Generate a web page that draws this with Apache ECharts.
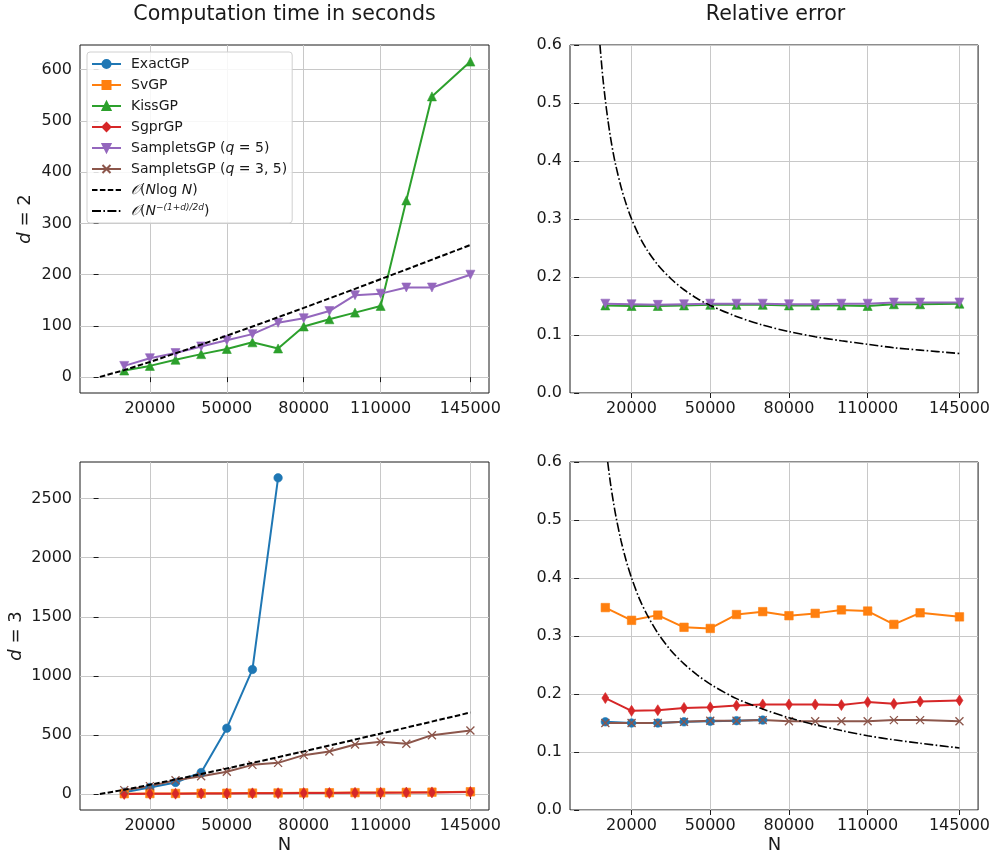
<!DOCTYPE html>
<html>
<head>
<meta charset="utf-8">
<script src="https://cdn.jsdelivr.net/npm/echarts@6/dist/echarts.min.js"></script>
<style>
html,body{margin:0;padding:0;background:#fff;}
#chart{width:993px;height:854px;}
</style>
</head>
<body>
<div id="chart"></div>
<script>
// ---- data ----
const N = [10000,20000,30000,40000,50000,60000,70000,80000,90000,100000,110000,120000,130000,145000];
const xTicks = [20000,50000,80000,110000,145000];
const yTicksTime2 = [0,100,200,300,400,500,600];
const yTicksTime3 = [0,500,1000,1500,2000,2500];

// d = 2, computation time
const kissTime2 = [13,22,34,45,55,68,56,99,113,126,139,345,548,616];
const samp5Time2 = [22,37,47,60,72,84,106,115,129,160,163,175,175,200];
// d = 2, relative error
const kissErr2 = [0.151,0.150,0.150,0.151,0.152,0.152,0.152,0.151,0.151,0.151,0.150,0.153,0.153,0.154];
const samp5Err2 = [0.154,0.153,0.152,0.153,0.154,0.154,0.154,0.153,0.153,0.154,0.154,0.156,0.156,0.156];
// d = 3, computation time
const exactN3 = [10000,20000,30000,40000,50000,60000,70000];
const exactTime3 = [17,57,99,183,558,1055,2676];
const svTime3 = [4,5,6,7,8,9,10,11,12,13,14,15,17,20];
const sgprTime3 = [2,3,4,5,6,7,8,9,10,11,12,13,15,18];
const samp35Time3 = [34,68,118,152,189,248,265,330,361,420,443,426,499,539];
// d = 3, relative error
const exactErr3 = [0.152,0.150,0.150,0.152,0.153,0.154,0.155];
const svErr3 = [0.349,0.327,0.336,0.315,0.313,0.337,0.342,0.335,0.339,0.345,0.343,0.320,0.340,0.333];
const sgprErr3 = [0.193,0.171,0.172,0.176,0.177,0.180,0.182,0.182,0.182,0.181,0.186,0.183,0.187,0.189];
const samp35Err3 = [0.150,0.150,0.150,0.152,0.154,0.154,0.155,0.153,0.153,0.153,0.153,0.155,0.155,0.153];

// reference rate lines
const refN = [500,10000,20000,40000,60000,80000,100000,120000,145000];
const nlognTime2 = [0.5,13.8,29.7,63.5,98.8,135.2,172.4,210.2,258];
const nlognTime3 = [1.3,37,79.5,170,264.6,362,461.7,563,691];
const rateN2 = [7950,9000,10000,11000,12000,13000,14000,16000,18000,20000,23000,26000,30000,35000,40000,45000,50000,60000,70000,80000,90000,100000,110000,120000,130000,145000];
const rateErr2 = [0.600,0.546,0.505,0.470,0.440,0.414,0.392,0.355,0.325,0.300,0.270,0.246,0.221,0.197,0.178,0.163,0.151,0.132,0.117,0.106,0.097,0.090,0.084,0.078,0.074,0.068];
const rateN3 = [10900,12000,13000,14000,16000,18000,20000,23000,26000,30000,35000,40000,45000,50000,60000,70000,80000,90000,100000,110000,120000,130000,145000];
const rateErr3 = [0.600,0.562,0.533,0.507,0.464,0.429,0.400,0.364,0.336,0.305,0.275,0.252,0.233,0.217,0.192,0.174,0.159,0.147,0.137,0.128,0.121,0.115,0.107];

const names = {
  exact:'ExactGP', sv:'SvGP', kiss:'KissGP', sgpr:'SgprGP',
  s5:'SampletsGP (q = 5)', s35:'SampletsGP (q = 3, 5)',
  nlogn:'O(N log N)', rate:'O(N^-(1+d)/(2d))'
};
const C = {exact:'#1f77b4', sv:'#ff7f0e', kiss:'#2ca02c', sgpr:'#d62728', s5:'#9467bd', s35:'#8c564b'};

function zip(xs, ys){ return xs.map((x,i)=>[x, ys[i]]); }

const FONT = 'DejaVu Sans';
const diamond = 'path://M0,-10L6,0L0,10L-6,0Z';
const xmark = 'path://M0,0L10,10M10,0L0,10';

function mk(key, sym, size, rot){
  return {
    type:'line', name:names[key], symbol:sym, symbolSize:size, symbolRotate:rot||0,
    showSymbol:true, color:C[key],
    lineStyle:{width:2, color:C[key]},
    itemStyle:{color:C[key], borderColor:C[key], borderWidth: sym===xmark?1.3:0.6},
    emphasis:{disabled:true}, z:2
  };
}
function S(key, gi, data){
  const sym = {exact:'circle', sv:'rect', kiss:'triangle', sgpr:diamond, s5:'triangle', s35:xmark}[key];
  const size = {exact:8.5, sv:8.5, kiss:9, sgpr:[7,11], s5:9, s35:8}[key];
  const s = mk(key, sym, size, key==='s5'?180:0);
  s.xAxisIndex = gi; s.yAxisIndex = gi; s.data = data;
  return s;
}
const clearItem = {color:'rgba(0,0,0,0)', borderColor:'rgba(0,0,0,0)', borderWidth:0, opacity:0};
function dashed(gi, data){
  return {type:'line', name:names.nlogn, xAxisIndex:gi, yAxisIndex:gi, data, symbol:'none', showSymbol:false,
    lineStyle:{width:2, color:'#000', type:[5.5,2.4]}, itemStyle:clearItem, emphasis:{disabled:true}, z:3};
}
function dashdot(gi, data){
  return {type:'line', name:names.rate, xAxisIndex:gi, yAxisIndex:gi, data, symbol:'none', showSymbol:false, smooth:0.3,
    lineStyle:{width:1.6, color:'#000', type:[9,2.4,1.6,2.4]}, itemStyle:clearItem, emphasis:{disabled:true}, z:3};
}

const gridBox = [
  {left:80, top:45, width:409, height:348},
  {left:570, top:45, width:409, height:348},
  {left:80, top:462, width:409, height:348},
  {left:570, top:462, width:409, height:348}
];
const grids = gridBox.map(g=>Object.assign({show:true, borderColor:'#1a1a1a', borderWidth:1, backgroundColor:'transparent', containLabel:false}, g));

const splitStyle = {show:true, lineStyle:{color:'#c8c8c8', width:1}};
const tickLab = {color:'#1a1a1a', fontSize:16, fontFamily:FONT};
const plain = v => String(v);
function xAx(gi, min, max){
  return {type:'value', gridIndex:gi, min, max,
    axisLine:{show:false}, axisTick:{show:true, inside:false, length:5, lineStyle:{color:'#1a1a1a'}, customValues:xTicks},
    axisLabel:Object.assign({margin:8, customValues:xTicks, formatter:plain}, tickLab), splitLine:splitStyle};
}
function yAxTime(gi, min, max, ticks){
  return {type:'value', gridIndex:gi, min, max,
    axisLine:{show:false}, axisTick:{show:true, inside:false, length:5, lineStyle:{color:'#1a1a1a'}, customValues:ticks},
    axisLabel:Object.assign({margin:8, customValues:ticks, formatter:plain}, tickLab), splitLine:splitStyle};
}
function yAxErr(gi){
  return {type:'value', gridIndex:gi, min:0, max:0.6, interval:0.1,
    axisLine:{show:false}, axisTick:{show:true, inside:false, length:5, lineStyle:{color:'#1a1a1a'}},
    axisLabel:Object.assign({margin:8, formatter:v=>v.toFixed(1)}, tickLab), splitLine:splitStyle};
}

const series = [
  // top-left: d=2 time
  S('kiss',0,zip(N,kissTime2)),
  S('s5',0,zip(N,samp5Time2)),
  dashed(0, zip(refN,nlognTime2)),
  // top-right: d=2 error
  S('kiss',1,zip(N,kissErr2)),
  S('s5',1,zip(N,samp5Err2)),
  dashdot(1, zip(rateN2,rateErr2)),
  // bottom-left: d=3 time
  S('exact',2,zip(exactN3,exactTime3)),
  S('sv',2,zip(N,svTime3)),
  S('sgpr',2,zip(N,sgprTime3)),
  S('s35',2,zip(N,samp35Time3)),
  dashed(2, zip(refN,nlognTime3)),
  // bottom-right: d=3 error
  S('exact',3,zip(exactN3,exactErr3)),
  S('sv',3,zip(N,svErr3)),
  S('sgpr',3,zip(N,sgprErr3)),
  S('s35',3,zip(N,samp35Err3)),
  dashdot(3, zip(rateN3,rateErr3))
];

const legendFmt = {
  'ExactGP':'ExactGP', 'SvGP':'SvGP', 'KissGP':'KissGP', 'SgprGP':'SgprGP',
  'SampletsGP (q = 5)':'SampletsGP ({i|q} = 5)',
  'SampletsGP (q = 3, 5)':'SampletsGP ({i|q} = 3, 5)',
  'O(N log N)':'{c|𝒪}({i|N}log {i|N})',
  'O(N^-(1+d)/(2d))':'{c|𝒪}({i|N}{sup|−(1+d)/2d})'
};

const option = {
  animation:false,
  backgroundColor:'#ffffff',
  textStyle:{fontFamily:FONT},
  grid:grids,
  xAxis:[xAx(0,-7250,152250), xAx(1,-3470,152100), xAx(2,-7250,152250), xAx(3,-3470,152100)],
  yAxis:[yAxTime(0,-30.9,648.3,yTicksTime2), yAxErr(1), yAxTime(2,-134,2810,yTicksTime3), yAxErr(3)],
  legend:{
    show:true, orient:'vertical', left:87, top:52, selectedMode:false,
    data:[
      names.exact,names.sv,names.kiss,names.sgpr,names.s5,names.s35,
      {name:names.nlogn, itemStyle:clearItem},
      {name:names.rate, itemStyle:clearItem}
    ],
    itemWidth:29, itemHeight:10, itemGap:5,
    padding:[4,5,4,4],
    backgroundColor:'rgba(255,255,255,0.85)', borderColor:'#d0d0d0', borderWidth:1, borderRadius:3,
    formatter:n=>legendFmt[n]||n,
    textStyle:{fontSize:14, fontFamily:FONT, color:'#1a1a1a', lineHeight:16, padding:[0,0,0,5],
      rich:{
        i:{fontStyle:'italic', fontSize:14, fontFamily:FONT, lineHeight:16},
        c:{fontSize:14, fontFamily:'DejaVu Serif', fontStyle:'italic', lineHeight:16},
        sup:{fontSize:9, fontStyle:'italic', fontFamily:FONT, verticalAlign:'top', lineHeight:16}
      }}
  },
  graphic:[
    {type:'text', x:284.5, y:15, style:{text:'Computation time in seconds', font:'20.6px "DejaVu Sans"', fill:'#1a1a1a', align:'center', verticalAlign:'middle'}},
    {type:'text', x:775.5, y:15, style:{text:'Relative error', font:'20.6px "DejaVu Sans"', fill:'#1a1a1a', align:'center', verticalAlign:'middle'}},
    {type:'text', x:284.5, y:845, style:{text:'N', font:'18px "DejaVu Sans"', fill:'#1a1a1a', align:'center', verticalAlign:'middle'}},
    {type:'text', x:774.5, y:845, style:{text:'N', font:'18px "DejaVu Sans"', fill:'#1a1a1a', align:'center', verticalAlign:'middle'}},
    {type:'text', x:25, y:219, rotation:Math.PI/2, style:{text:'{i|d} = 2', font:'18px "DejaVu Sans"', fill:'#1a1a1a', align:'center', verticalAlign:'middle',
      rich:{i:{fontStyle:'italic', fontSize:18, fontFamily:FONT, fill:'#1a1a1a'}}}},
    {type:'text', x:16, y:636, rotation:Math.PI/2, style:{text:'{i|d} = 3', font:'18px "DejaVu Sans"', fill:'#1a1a1a', align:'center', verticalAlign:'middle',
      rich:{i:{fontStyle:'italic', fontSize:18, fontFamily:FONT, fill:'#1a1a1a'}}}}
  ],
  series
};

const chart = echarts.init(document.getElementById('chart'), null, {renderer:'canvas'});
chart.setOption(option);
</script>
</body>
</html>
